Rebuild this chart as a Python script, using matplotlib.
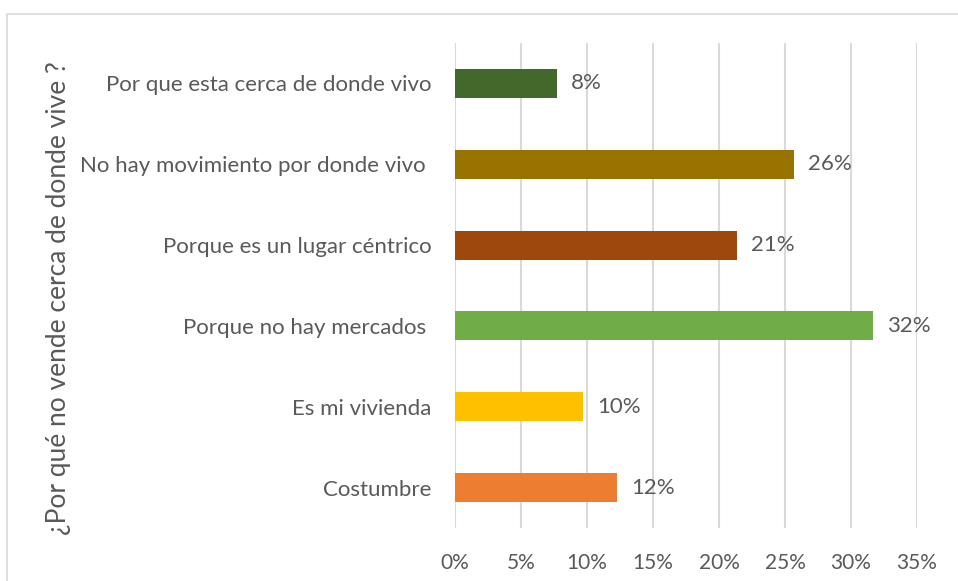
import matplotlib
matplotlib.use("Agg")
import matplotlib.pyplot as plt
from matplotlib.patches import Rectangle
from matplotlib.ticker import PercentFormatter

# categories listed bottom to top
reasons = ["Costumbre", "Es mi vivienda", "Porque no hay mercados ",
           "Porque es un lugar céntrico", "No hay movimiento por donde vivo ",
           "Por que esta cerca de donde vivo"]
shares = [0.123, 0.097, 0.317, 0.214, 0.257, 0.077]
colors = ["#ED7D31", "#FFC000", "#70AD47", "#9E480E", "#997300", "#43682B"]
xticks = [0, 0.05, 0.10, 0.15, 0.20, 0.25, 0.30, 0.35]

plt.rcParams["font.family"] = ["Lato", "DejaVu Sans"]
text_color = "#595959"
grid_color = "#D9D9D9"

fig = plt.figure(figsize=(9.58, 5.81), dpi=100)
ax = fig.add_axes([455 / 958, 1 - 528 / 581, 462 / 958, 485 / 581])

# chart-area frame
fig.patches.append(Rectangle((7 / 958, -0.1), 1.1, 1 - 14 / 581 + 0.1,
                             transform=fig.transFigure, fill=False,
                             edgecolor=grid_color, linewidth=1.2))

ypos = range(len(reasons))
ax.barh(ypos, shares, height=0.36, color=colors, zorder=3)

for y, v in zip(ypos, shares):
    ax.annotate(f"{v:.0%}", (v, y), xytext=(10, 0), textcoords="offset points",
                va="center", ha="left", fontsize=16, color=text_color)

ax.set_xlim(0, 0.35)
ax.set_ylim(-0.5, len(reasons) - 0.5)
ax.set_xticks(xticks)
ax.xaxis.set_major_formatter(PercentFormatter(1.0, decimals=0))
ax.set_yticks(list(ypos))
ax.set_yticklabels(reasons)
ax.grid(axis="x", color=grid_color, linewidth=1.5, zorder=0)
for s in ax.spines.values():
    s.set_visible(False)
ax.tick_params(axis="both", length=0, labelcolor=text_color)
ax.tick_params(axis="x", pad=18, labelsize=15)
ax.tick_params(axis="y", pad=17, labelsize=16)

fig.text(59 / 958, 1 - 298 / 581, "¿Por qué no vende cerca de donde vive ?",
         rotation=90, ha="center", va="center", fontsize=19, color=text_color)

fig.savefig("out.png", dpi=100)
